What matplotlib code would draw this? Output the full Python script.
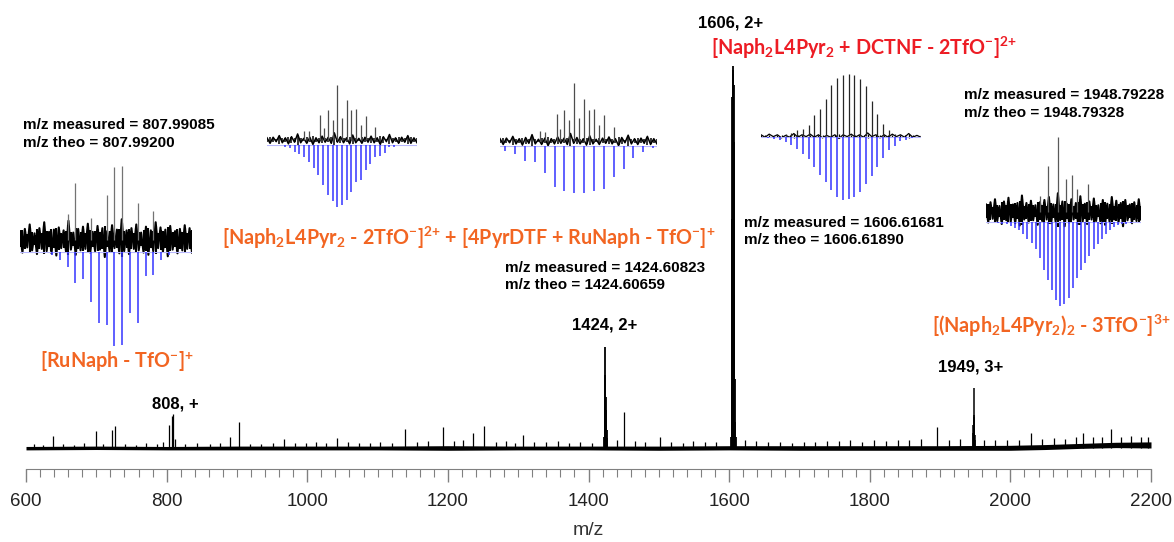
import numpy as np
import matplotlib.pyplot as plt
from matplotlib.ticker import MultipleLocator

# ── data: main spectrum (relative intensity, 1606 peak = 100) ────────────────
noise_mz = [600, 700, 800, 900, 1000, 1100, 1200, 1300, 1400, 1500, 1600,
            1700, 1800, 1900, 2000, 2050, 2100, 2150, 2200]
noise_hi = [0.4, 0.5, 0.4, 0.5, 0.5, 0.5, 0.6, 0.5, 0.5, 0.5, 0.6,
            0.6, 0.6, 0.6, 0.7, 0.9, 1.2, 1.5, 1.6]
noise_lo = [-0.5, -0.4, -0.5, -0.5, -0.5, -0.5, -0.6, -0.5, -0.5, -0.6, -0.5,
            -0.6, -0.6, -0.6, -0.6, -0.4, -0.1, 0.1, 0.0]

spike_mz = [612, 624, 638, 652, 668, 683, 699, 709, 722, 727, 741, 756, 771,
            786, 795, 803, 808, 809, 812, 826, 843, 861, 876, 890, 903, 919,
            934, 951, 967, 983, 998, 1013, 1027, 1043, 1058, 1074, 1089, 1104,
            1121, 1139, 1156, 1172, 1193, 1208, 1221, 1236, 1251, 1268, 1283,
            1296, 1307, 1322, 1339, 1356, 1372, 1388, 1405, 1440, 1451, 1466,
            1481, 1502, 1518, 1534, 1549, 1565, 1581, 1622, 1638, 1655, 1672,
            1689, 1706, 1722, 1739, 1756, 1772, 1789, 1806, 1823, 1840, 1856,
            1873, 1896, 1912, 1928, 1962, 1978, 1995, 2012, 2029, 2045, 2062,
            2078, 2094, 2103, 2118, 2131, 2143, 2158, 2172, 2186, 2196]
spike_int = [1.0, 0.9, 3.2, 1.1, 0.9, 1.2, 4.5, 1.0, 4.7, 5.7, 1.1, 0.9, 1.3,
             1.0, 1.5, 6.0, 8.3, 8.9, 2.3, 1.1, 1.3, 1.0, 1.2, 3.0, 6.8, 1.1,
             1.0, 1.4, 2.3, 1.3, 1.2, 1.5, 1.3, 2.5, 1.6, 1.4, 1.2, 1.7,
             1.3, 5.0, 1.6, 1.8, 5.5, 1.9, 2.2, 4.0, 5.7, 1.7, 1.8,
             1.4, 3.5, 1.6, 1.5, 1.8, 1.4, 1.6, 1.3, 2.0, 9.5, 1.8,
             1.5, 3.0, 1.6, 1.4, 1.8, 1.5, 1.7, 2.0, 1.8, 1.5, 1.6,
             1.4, 1.7, 1.5, 1.9, 1.8, 2.1, 1.6, 2.0, 1.8, 2.2, 2.0,
             2.4, 5.5, 2.0, 2.3, 2.1, 2.0, 2.2, 2.1, 4.0, 2.3, 2.5,
             2.4, 2.8, 4.0, 2.9, 2.8, 5.0, 3.0, 3.1, 2.9, 2.8]

c1424_mz = [1422.0, 1423.0, 1423.5, 1424.0, 1424.5, 1425.0, 1425.5, 1426.0, 1427.0]
c1424_int = [3.0, 10.8, 19.0, 26.5, 13.4, 10.0, 6.0, 4.7, 2.5]
c1606_mz = [1602.5, 1603.5, 1604.0, 1604.5, 1605.0, 1605.5, 1606.0, 1606.5,
            1607.0, 1607.5, 1608.0, 1609.0, 1610.0]
c1606_int = [3, 16, 60, 92, 99, 100, 98, 95, 80, 40, 18, 6.8, 3]
c1949_mz = [1947.0, 1947.33, 1947.67, 1948.0, 1948.33, 1948.67, 1949.0, 1950.0]
c1949_int = [4, 6, 8.7, 15.8, 8, 5, 3.5, 2]

# ── data: isotope pattern insets (measured up, theoretical down, % of max) ───
a_meas_mz = [802, 803, 805, 807, 808, 809, 811, 813]
a_meas_int = [35, 77, 30, 61, 99, 100, 50, 39]
a_theo_mz = [800, 801, 802, 803, 804, 805, 806, 807, 808, 809, 810, 811,
             812, 813, 814, 815]
a_theo_int = [3.5, 9, 16, 33, 29, 53, 75, 78, 100, 99, 65, 75, 25, 24, 8, 3.5]
a_noise = [12, -17, 15, -10, 21, -14, 9, -19, 16, -12, 24, -15, 11, -18, 14,
           -21, 17, -11, 13, -16, 26, -13, 10, -20, 15, -14, 18, -12, 22, -17,
           11, -15, 19, -13, 16, -23, 12, -16, 20, -11, 14, -18, 28, -15, 13,
           -19, 16, -12, 21, -14, 10, -17, 18, -20, 13, -15, 24, -11, 17, -16,
           14, -22, 19, -13, 12, -18, 15, -14, 20, -12, 16, -17]

# 1424 region: same measured spectrum, two candidate assignments
bc_meas_mz = [1421.5, 1422.0, 1423.2, 1423.6, 1424.0, 1424.5, 1425.0, 1425.5,
              1426.0, 1426.5, 1427.0, 1427.5, 1428.0, 1429.0]
bc_meas_int = [17, 16, 46, 21, 54, 37, 100, 40, 73, 54, 56, 27, 44, 24]
bc_noise = [4, -6, 5, -3, 8, -5, 4, -7, 6, -4, 11, -5, 3, -6, 5, -8, 4, -5,
            7, -4, 5, -6, 13, -4, 6, -5, 4, -7, 9, -5, 3, -6, 5, -4, 7, -5,
            4, -8, 6, -3, 10, -5, 4, -6, 5, -4, 8, -6, 4, -5]
b_theo_mz = [1419.5, 1420.0, 1420.5, 1421.0, 1421.5, 1422.0, 1422.5, 1423.0,
             1423.5, 1424.0, 1424.5, 1425.0, 1425.5, 1426.0, 1426.5, 1427.0,
             1427.5, 1428.0, 1428.5, 1429.0, 1429.5, 1430.0, 1430.5, 1431.0]
b_theo_int = [4, 5, 11, 15, 20, 27, 37, 48, 65, 81, 91, 100, 97, 89, 75, 59,
              56, 40, 30, 20, 17, 13, 4, 4]
c_theo_mz = [1418, 1419, 1420, 1421, 1422, 1423, 1424, 1425, 1426, 1427,
             1428, 1429, 1430, 1431, 1432, 1433]
c_theo_int = [10, 16, 31, 35, 58, 87, 96, 99, 100, 96, 91, 67, 48, 26, 12, 5]

d_meas_mz = [1601.5, 1602.0, 1602.5, 1603.0, 1603.5, 1604.0, 1604.5, 1605.0,
             1605.5, 1606.0, 1606.5, 1607.0, 1607.5, 1608.0, 1608.5, 1609.0,
             1609.5, 1610.0, 1610.5, 1611.0]
d_meas_int = [3, 5, 9, 12, 18, 34, 43, 59, 82, 93, 98, 100, 98, 92, 80, 57,
              35, 19, 10, 3]
d_theo_mz = [1600.0, 1600.5, 1601.0, 1601.5, 1602.0, 1602.5, 1603.0, 1603.5,
             1604.0, 1604.5, 1605.0, 1605.5, 1606.0, 1606.5, 1607.0, 1607.5,
             1608.0, 1608.5, 1609.0, 1609.5, 1610.0, 1610.5, 1611.0, 1611.5,
             1612.0, 1612.5]
d_theo_int = [2, 3, 5, 8, 12, 19, 27, 35, 47, 60, 71, 84, 95, 100, 99, 96,
              88, 74, 62, 47, 34, 21, 14, 7, 4, 2]
d_noise = [2, -2, 3, -1, 2, -3, 1, -2, 4, -2, 2, -1, 3, -2, 2, -3, 1, -2, 2,
           -4, 2, -1, 3, -2, 2, -2, 5, -1, 2, -3, 2, -2, 3, -1, 2, -2, 4, -2,
           1, -2]

e_meas_mz = [1947.36, 1948.03, 1948.78, 1949.46, 1949.94, 1950.37, 1951.2]
e_meas_int = [22, 61, 100, 44, 49, 31, 37]
e_theo_mz = [1944.00, 1944.33, 1944.67, 1945.00, 1945.33, 1945.67, 1946.00,
             1946.33, 1946.67, 1947.00, 1947.33, 1947.67, 1948.00, 1948.33,
             1948.67, 1949.00, 1949.33, 1949.67, 1950.00, 1950.33, 1950.67,
             1951.00, 1951.33, 1951.67, 1952.00, 1952.33, 1952.67, 1953.00,
             1953.33, 1953.67, 1954.00, 1954.33, 1954.67]
e_theo_int = [1, 2, 2, 5, 7, 10, 14, 20, 25, 32, 43, 57, 69, 81, 93, 100,
              98, 91, 79, 67, 57, 49, 40, 32, 26, 20, 14, 10, 6, 4, 2, 2, 1]
e_noise = [10, -14, 13, -9, 17, -12, 8, -16, 14, -11, 19, -13, 10, -15, 12,
           -18, 22, -10, 12, -14, 15, -11, 9, -17, 13, -12, 16, -10, 20, -15,
           10, -13, 25, -11, 14, -19, 11, -14, 17, -10, 12, -16, 21, -13, 11,
           -16, 14, -10, 18, -12, 9, -15, 16, -17, 11, -13, 20, -10, 15, -14,
           12, -19, 16, -11, 10, -15, 13, -12, 17, -10]

# ── style ────────────────────────────────────────────────────────────────────
plt.rcParams['font.family'] = ['Liberation Sans', 'DejaVu Sans']
plt.rcParams['mathtext.fontset'] = 'custom'
plt.rcParams['mathtext.rm'] = 'Lato:bold'
plt.rcParams['mathtext.it'] = 'Lato:bold'
plt.rcParams['mathtext.bf'] = 'Lato:bold'
plt.rcParams['mathtext.default'] = 'regular'

W, H = 1174, 542
ORANGE = '#F26522'
RED = '#ED1C24'
BLUE = '#3434ff'
GREY = '#808080'

fig = plt.figure(figsize=(W / 100, H / 100), dpi=100)


def box(left, top, right, bottom):
    """pixel box (top-left origin) -> figure rect"""
    return [left / W, 1 - bottom / H, (right - left) / W, (bottom - top) / H]


def px(x, y):
    return x / W, 1 - y / H


# ── main spectrum ────────────────────────────────────────────────────────────
ax = fig.add_axes(box(26, 0, 1151, 469))
ax.fill_between(noise_mz, noise_lo, noise_hi, color='black', lw=0)
ax.vlines(spike_mz, 0, spike_int, color='black', lw=0.9)
ax.vlines(c1424_mz, 0, c1424_int, color='black', lw=1.3)
ax.vlines(c1606_mz, 0, c1606_int, color='black', lw=1.3)
ax.vlines(c1949_mz, 0, c1949_int, color='black', lw=1.1)
ax.set_xlim(600, 2200)
ax.set_ylim(-5.5, 117.3)

for s in ['left', 'right', 'top']:
    ax.spines[s].set_visible(False)
ax.spines['bottom'].set_color(GREY)
ax.set_yticks([])
ax.set_xticks(range(600, 2201, 200))
ax.xaxis.set_minor_locator(MultipleLocator(20))
ax.tick_params(axis='x', which='major', length=9, width=1, color=GREY,
               labelsize=13.5, labelcolor='#222222', pad=8)
ax.tick_params(axis='x', which='minor', length=6, width=0.8, color=GREY)
ax.set_xlabel('m/z', fontsize=14, color='#333333', labelpad=9)
ax.patch.set_alpha(0)


# ── isotope insets ───────────────────────────────────────────────────────────
def inset(left, right, xlim, top, base, theo_base, theo_bottom,
          meas_mz, meas_int, theo_mz, theo_int, noise, meas_col, noise_lw):
    pad = 30
    span = base - top
    am = fig.add_axes(box(left, top, right, base + pad))
    am.set_xlim(*xlim)
    am.set_ylim(-pad / span * 100, 100)
    xs = np.linspace(xlim[0], xlim[1], len(noise))
    nv = np.array(noise)
    am.plot(xs, nv, color='black', lw=noise_lw)
    am.vlines(xs, -np.abs(nv) * 0.8, np.abs(nv) * 0.8, color='black', lw=noise_lw)
    am.vlines(meas_mz, 0, meas_int, color=meas_col, lw=0.9)
    am.axis('off')

    at = fig.add_axes(box(left, theo_base, right, theo_bottom))
    at.set_xlim(*xlim)
    at.set_ylim(-100, 0)
    at.axhline(0, color='#b8b8ff', lw=0.8)
    at.vlines(theo_mz, 0, -np.array(theo_int), color=BLUE, lw=1.1)
    at.axis('off')


inset(20, 192, (795.9, 817.95), 166, 240, 252, 346,
      a_meas_mz, a_meas_int, a_theo_mz, a_theo_int, a_noise, '0.45', 1.5)
inset(267, 417, (1417.6, 1433.4), 85, 140, 145, 207,
      bc_meas_mz, bc_meas_int, b_theo_mz, b_theo_int, bc_noise, '0.3', 1.1)
inset(500, 657, (1417.46, 1433.4), 83, 141, 146, 193,
      bc_meas_mz, bc_meas_int, c_theo_mz, c_theo_int, bc_noise, '0.3', 1.1)
inset(761, 921, (1599.36, 1613.3), 74, 136, 137, 200,
      d_meas_mz, d_meas_int, d_theo_mz, d_theo_int, d_noise, '0.15', 0.9)
inset(986, 1141, (1943.0, 1955.5), 137, 212, 222, 306,
      e_meas_mz, e_meas_int, e_theo_mz, e_theo_int, e_noise, '0.35', 1.5)

# ── annotations ──────────────────────────────────────────────────────────────
bold = dict(fontweight='bold', color='black')
for x, y, t in [(23, 125, 'm/z measured = 807.99085'),
                (23, 143, 'm/z theo = 807.99200'),
                (505, 268, 'm/z measured = 1424.60823'),
                (505, 285, 'm/z theo = 1424.60659'),
                (744, 223, 'm/z measured = 1606.61681'),
                (744, 240, 'm/z theo = 1606.61890'),
                (964, 95, 'm/z measured = 1948.79228'),
                (964, 113, 'm/z theo = 1948.79328')]:
    fig.text(*px(x, y), t, fontsize=11, ha='left', va='center', **bold)

for x, y, t in [(175, 404, '808, +'), (605, 325, '1424, 2+'),
                (731, 23, '1606, 2+'), (971, 367, '1949, 3+')]:
    fig.text(*px(x, y), t, fontsize=12, ha='center', va='center', **bold)

form = dict(fontfamily=['Lato', 'DejaVu Sans'], fontweight='bold',
            fontsize=14.2, va='center')
fig.text(*px(40, 362), r'[RuNaph - TfO$^{-}$]$^{+}$', color=ORANGE, ha='left', **form)
fig.text(*px(222, 238),
         r'[Naph$_2$L4Pyr$_2$ - 2TfO$^{-}$]$^{2{+}}$ + [4PyrDTF + RuNaph - TfO$^{-}$]$^{+}$',
         color=ORANGE, ha='left', **form)
fig.text(*px(711, 48), r'[Naph$_2$L4Pyr$_2$ + DCTNF - 2TfO$^{-}$]$^{2{+}}$',
         color=RED, ha='left', **form)
fig.text(*px(1170, 326), r'[(Naph$_2$L4Pyr$_2$)$_2$ - 3TfO$^{-}$]$^{3{+}}$',
         color=ORANGE, ha='right', **form)

fig.savefig('out.png', dpi=100, facecolor='white')
